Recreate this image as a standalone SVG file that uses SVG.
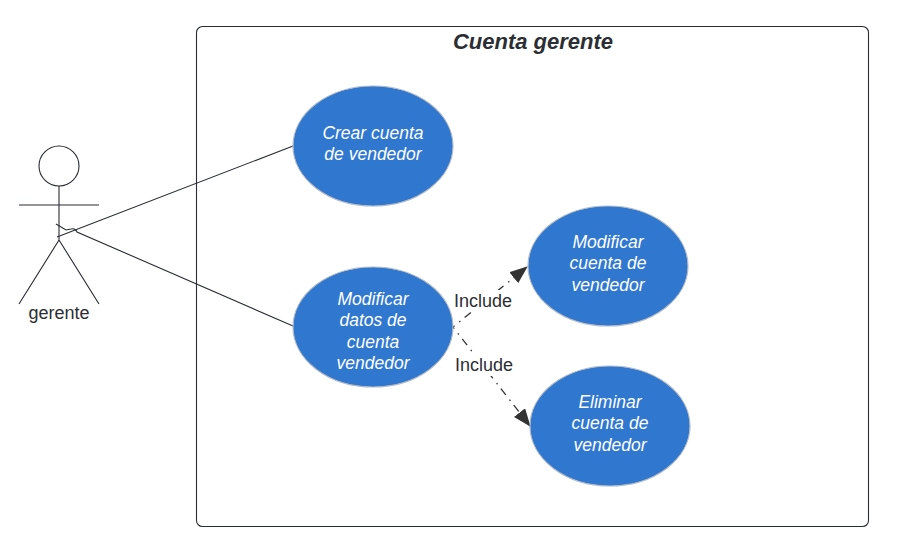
<svg xmlns="http://www.w3.org/2000/svg" width="900" height="538" viewBox="0 0 900 538">
<style>
text{font-family:"Liberation Sans",Arial,sans-serif;fill:#2b2e33;text-anchor:middle}
.uc{fill:#3077cf;stroke:#b4bac4;stroke-width:1.200}
.uc-t{font-size:17.500px;font-style:italic;fill:#fff}
.ln{fill:none;stroke:#282c33;stroke-width:1.100}
.dash{fill:none;stroke:#333;stroke-width:1.300;stroke-dasharray:8 6 1.500 5.500;stroke-dashoffset:6}
.lbl{font-size:18px}
</style>
<defs><marker id="ah" markerUnits="userSpaceOnUse" markerWidth="20" markerHeight="16" refX="17" refY="7" orient="auto"><path d="M0 0L18 7L0 14Z" fill="#333"/></marker></defs>
<rect width="900" height="538" fill="#fff"/>
<g id="system"><rect x="196.500" y="26.500" width="672" height="500" rx="6" fill="#fff" stroke="#282c33" stroke-width="1.100"/>
<text x="533" y="49" font-size="22px" font-weight="bold" font-style="italic">Cuenta gerente</text></g>
<g id="connectors">
<path class="ln" d="M57 237L293 146"/>
<path class="ln" d="M56 224L66 230L71 229A5 5 0 0 1 77 232L293 326"/>
<path class="dash" d="M453 327L527 267" marker-end="url(#ah)"/>
<path class="dash" d="M453 327L530 426" marker-end="url(#ah)"/>
</g>
<g id="actor-gerente">
<circle cx="59" cy="166" r="20" class="ln"/>
<path class="ln" d="M59 186V240M19 205H99M59 240L19 304M59 240L99 304"/>
<text x="59" y="319" font-size="18px">gerente</text></g>
<g id="uc-crear"><ellipse class="uc" cx="373" cy="146" rx="80" ry="60"/>
<text class="uc-t" x="373" y="139">Crear cuenta</text><text class="uc-t" x="373" y="160">de vendedor</text></g>
<g id="uc-modificar-datos"><ellipse class="uc" cx="373" cy="327" rx="80" ry="60"/>
<text class="uc-t" x="373" y="305">Modificar</text><text class="uc-t" x="373" y="326">datos de</text><text class="uc-t" x="373" y="348">cuenta</text><text class="uc-t" x="373" y="369">vendedor</text></g>
<g id="uc-modificar-cuenta"><ellipse class="uc" cx="608" cy="266" rx="80" ry="60"/>
<text class="uc-t" x="608" y="248">Modificar</text><text class="uc-t" x="608" y="269">cuenta de</text><text class="uc-t" x="608" y="291">vendedor</text></g>
<g id="uc-eliminar"><ellipse class="uc" cx="610" cy="426" rx="80" ry="60"/>
<text class="uc-t" x="610" y="408">Eliminar</text><text class="uc-t" x="610" y="429">cuenta de</text><text class="uc-t" x="610" y="451">vendedor</text></g>
<g id="labels">
<rect x="452" y="290" width="62" height="22" fill="#fff"/><text class="lbl" x="483" y="307">Include</text>
<rect x="453" y="354" width="62" height="22" fill="#fff"/><text class="lbl" x="484" y="371">Include</text>
</g>
</svg>
